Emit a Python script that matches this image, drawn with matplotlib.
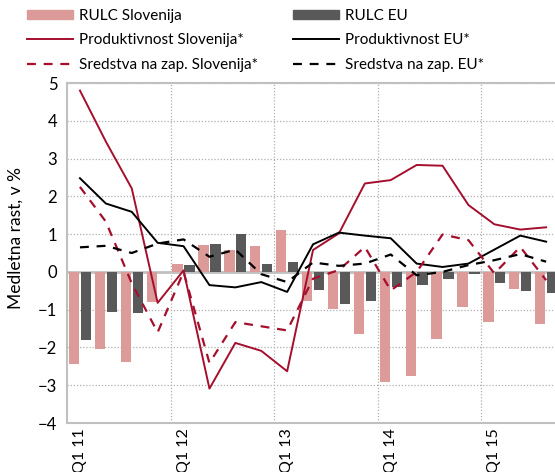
import numpy as np
import matplotlib
matplotlib.use("Agg")
import matplotlib.pyplot as plt
from matplotlib.patches import Patch
from matplotlib.lines import Line2D

plt.rcParams['font.family'] = ['Lato', 'DejaVu Sans']

# kvartali Q1 11 .. Q3 15
kvartali = ["Q1 11", "Q2 11", "Q3 11", "Q4 11",
            "Q1 12", "Q2 12", "Q3 12", "Q4 12",
            "Q1 13", "Q2 13", "Q3 13", "Q4 13",
            "Q1 14", "Q2 14", "Q3 14", "Q4 14",
            "Q1 15", "Q2 15", "Q3 15"]

rulc_slo = [-2.45, -2.04, -2.39, -0.80, 0.20, 0.71, 0.58, 0.69, 1.10,
            -0.77, -0.97, -1.64, -2.91, -2.75, -1.78, -0.94, -1.33, -0.45, -1.38]
rulc_eu = [-1.79, -1.07, -1.10, 0.0, 0.18, 0.73, 1.00, 0.20, 0.25,
           -0.48, -0.85, -0.76, -0.41, -0.34, -0.18, -0.06, -0.30, -0.50, -0.56]
prod_slo = [4.80, 3.45, 2.21, -0.82, 0.04, -3.09, -1.88, -2.09, -2.63,
            0.58, 1.02, 2.34, 2.43, 2.83, 2.81, 1.77, 1.26, 1.12, 1.18]
prod_eu = [2.48, 1.81, 1.59, 0.77, 0.68, -0.35, -0.41, -0.27, -0.53,
           0.73, 1.04, 0.96, 0.89, 0.22, 0.13, 0.22, 0.59, 0.96, 0.80]
sred_slo = [2.25, 1.33, -0.30, -1.60, 0.0, -2.41, -1.33, -1.44, -1.55,
            -0.18, 0.05, 0.66, -0.49, 0.0, 0.99, 0.84, -0.04, 0.66, -0.22]
sred_eu = [0.65, 0.69, 0.50, 0.75, 0.86, 0.40, 0.59, -0.06, -0.27,
           0.25, 0.16, 0.22, 0.46, -0.09, 0.0, 0.18, 0.31, 0.47, 0.27]

roza = "#dc9a99"
siva = "#595959"
rdeca = "#a50f2d"

fig = plt.figure(figsize=(5.55, 4.72), dpi=100)
ax = fig.add_axes([67/555, 49/472, 1 - 67/555, 340/472])

x = np.arange(len(kvartali))
ax.bar(x - 0.23, rulc_slo, width=0.4, color=roza, zorder=2)
ax.bar(x + 0.23, rulc_eu, width=0.4, color=siva, zorder=2)
ax.axhline(0, color="#c0c0c0", lw=2, zorder=1)

ax.plot(x, prod_slo, color=rdeca, lw=1.4, zorder=3)
ax.plot(x, prod_eu, color="black", lw=1.4, zorder=3)
ax.plot(x, sred_slo, color=rdeca, lw=1.6, dashes=(4, 3.5), zorder=3)
ax.plot(x, sred_eu, color="black", lw=1.6, dashes=(4, 3.5), zorder=3)

ax.set_xlim(-0.5, -0.5 + 488/25.9)
ax.set_ylim(-4, 5)
ax.set_yticks(range(-4, 6))
ax.set_xticks(x[::4])
ax.set_xticklabels(kvartali[::4], rotation=90)
ax.tick_params(length=0, labelsize=12, pad=7)
ax.tick_params(axis='x', labelsize=11.5, pad=4)

# mreza
for v in range(-3, 6):
    ax.axhline(v, color="#b0b0b0", lw=0.9, ls=(0, (1, 1.5)), zorder=0)
for g in np.arange(3.5, len(kvartali), 4):
    ax.axvline(g, color="#b0b0b0", lw=0.9, ls=(0, (1, 1.5)), zorder=0)

for s in ["left", "bottom", "top"]:
    ax.spines[s].set_color("#c0c0c0")
    ax.spines[s].set_linewidth(1.5)
ax.spines["right"].set_visible(False)

ax.set_ylabel("Medletna rast, v %", fontsize=12.5)
ax.yaxis.set_label_coords(-0.088, 0.544)

h1 = [Patch(color=roza), Line2D([], [], color=rdeca, lw=1.4),
      Line2D([], [], color=rdeca, lw=1.6, dashes=(4, 3.5))]
l1 = ["RULC Slovenija", "Produktivnost Slovenija*", "Sredstva na zap. Slovenija*"]
h2 = [Patch(color=siva), Line2D([], [], color="black", lw=1.4),
      Line2D([], [], color="black", lw=1.6, dashes=(4, 3.5))]
l2 = ["RULC EU", "Produktivnost EU*", "Sredstva na zap. EU*"]

kw = dict(frameon=False, fontsize=11, handlelength=3.0, handleheight=0.6,
          handletextpad=0.4, labelspacing=0.68, borderpad=0, borderaxespad=0)
fig.legend(h1, l1, loc="upper left", bbox_to_anchor=(27/555, 1 - 9/472), **kw)
fig.legend(h2, l2, loc="upper left", bbox_to_anchor=(293/555, 1 - 9/472), **kw)

fig.savefig("out.png", dpi=100)
